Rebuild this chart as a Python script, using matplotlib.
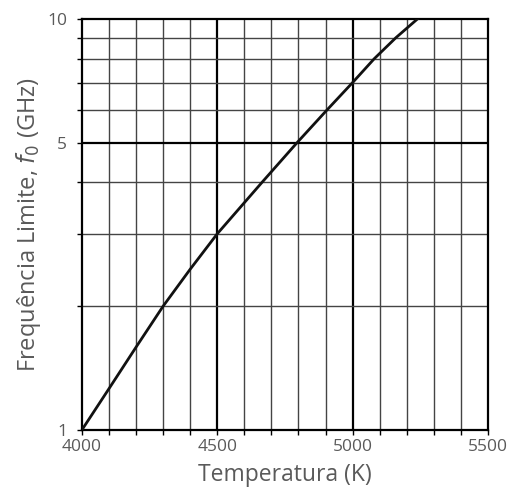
import matplotlib
matplotlib.use("Agg")
import matplotlib.pyplot as plt
from matplotlib.ticker import FixedLocator, NullFormatter

# curve (temperature in K, cut-off frequency in GHz)
temperature = [4000, 4100, 4200, 4300, 4400, 4500, 4665, 4795, 4905, 5000, 5080, 5160, 5240]
frequency = [1.0, 1.26, 1.59, 2.0, 2.46, 3.0, 4.0, 5.0, 6.0, 7.0, 8.0, 9.0, 10.0]

x_ticks = [4000, 4500, 5000, 5500]
x_minor = list(range(4000, 5501, 100))
y_ticks = [1, 5, 10]
y_minor = [1, 2, 3, 4, 5, 6, 7, 8, 9, 10]

plt.rcParams["font.family"] = ["Open Sans", "DejaVu Sans"]
text_color = "#5a5a5a"

fig = plt.figure(figsize=(5.12, 4.97), dpi=100)
ax = fig.add_axes([0.160, 0.135, 0.793, 0.827])

# grid drawn by hand so the 500 K / 5 GHz lines can be heavier
for t in x_minor[1:-1]:
    major = t in (4500, 5000)
    ax.axvline(t, color="black" if major else "#444444",
               lw=1.6 if major else 1.0, zorder=1)
for f in y_minor[1:-1]:
    major = f == 5
    ax.axhline(f, color="black" if major else "#444444",
               lw=1.6 if major else 1.0, zorder=1)

ax.plot(temperature, frequency, color="#111111", lw=2.0, zorder=3)

ax.set_yscale("log")
ax.set_xlim(4000, 5500)
ax.set_ylim(1, 10)

ax.xaxis.set_major_locator(FixedLocator(x_ticks))
ax.xaxis.set_minor_locator(FixedLocator(x_minor))
ax.yaxis.set_major_locator(FixedLocator(y_ticks))
ax.yaxis.set_minor_locator(FixedLocator(y_minor))
ax.yaxis.set_minor_formatter(NullFormatter())
ax.set_yticklabels([str(v) for v in y_ticks])
ax.set_xticklabels([str(v) for v in x_ticks])

ax.tick_params(which="both", direction="out", length=3.5, width=1.0,
               color="black", labelcolor=text_color, labelsize=12.5)
ax.tick_params(axis="x", which="major", pad=3)
ax.tick_params(axis="y", which="major", pad=7)

for side in ax.spines.values():
    side.set_linewidth(1.6)
    side.set_color("black")

ax.set_xlabel("Temperatura (K)", color=text_color, fontsize=16.5, labelpad=6)
ax.set_ylabel(r"Frequência Limite, $f_0$ (GHz)", color=text_color,
              fontsize=17, labelpad=3)

plt.savefig("out.png", dpi=100)
